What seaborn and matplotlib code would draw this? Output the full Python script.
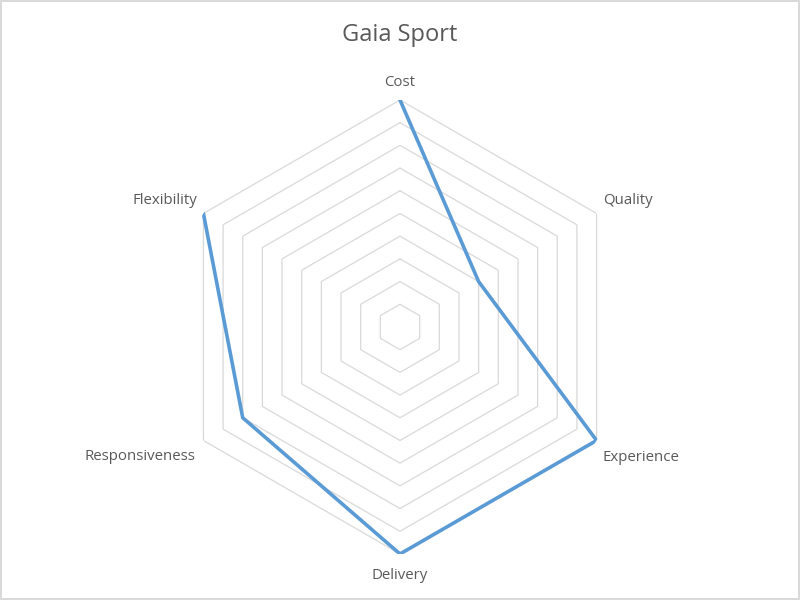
import numpy as np
import pandas as pd
import matplotlib
matplotlib.use("Agg")
import matplotlib.pyplot as plt
import seaborn as sns

# chart data
categories = ["Cost", "Quality", "Experience", "Delivery", "Responsiveness", "Flexibility"]
scores = [10, 4, 10, 10, 8, 10]
ring_levels = [1, 2, 3, 4, 5, 6, 7, 8, 9, 10]
title = "Gaia Sport"

LINE_COLOR = "#5b9bd5"
GRID_COLOR = "#d9d9d9"
TEXT_COLOR = "#595959"

sns.set_theme(style="white")
plt.rcParams["font.family"] = ["Open Sans", "DejaVu Sans"]

angles = np.linspace(0, 2 * np.pi, len(categories), endpoint=False)
closed_angles = np.append(angles, angles[0])
df = pd.DataFrame({"theta": closed_angles, "score": scores + scores[:1]})

fig = plt.figure(figsize=(8, 6), dpi=100, edgecolor=GRID_COLOR, linewidth=1.5)
ax = fig.add_axes([0.21625, 0.0767, 0.5675, 0.7567], projection="polar")
ax.set_theta_zero_location("N")
ax.set_theta_direction(-1)
ax.set_ylim(0, max(ring_levels))

# hexagonal grid rings
for lvl in ring_levels:
    ax.plot(closed_angles, [lvl] * len(closed_angles), color=GRID_COLOR,
            lw=0.9, zorder=1)

sns.lineplot(data=df, x="theta", y="score", sort=False, color=LINE_COLOR,
             lw=2.6, ax=ax, zorder=3, legend=False)

ax.grid(False)
ax.spines["polar"].set_visible(False)
ax.set_xticks([])
ax.set_yticks([])
ax.set_xlabel("")
ax.set_ylabel("")
ax.patch.set_alpha(0)

# category labels placed around the outer ring
label_style = {
    "Cost": ((0, 12.8), "center", "center"),
    "Quality": ((4.5, 9), "left", "center"),
    "Experience": ((4.5, -12.5), "left", "center"),
    "Delivery": ((0, -15.2), "center", "center"),
    "Responsiveness": ((-6, -11.5), "right", "center"),
    "Flexibility": ((-4.5, 9), "right", "center"),
}
for cat, ang in zip(categories, angles):
    off, ha, va = label_style[cat]
    ax.annotate(cat, xy=(ang, max(ring_levels)), xytext=off,
                textcoords="offset points", ha=ha, va=va,
                fontsize=10.8, color=TEXT_COLOR)

fig.text(0.5, 1 - 35 / 600, title, ha="center", va="center",
         fontsize=17, color=TEXT_COLOR)

fig.savefig("out.png", dpi=100, facecolor="white",
            edgecolor=fig.get_edgecolor())
